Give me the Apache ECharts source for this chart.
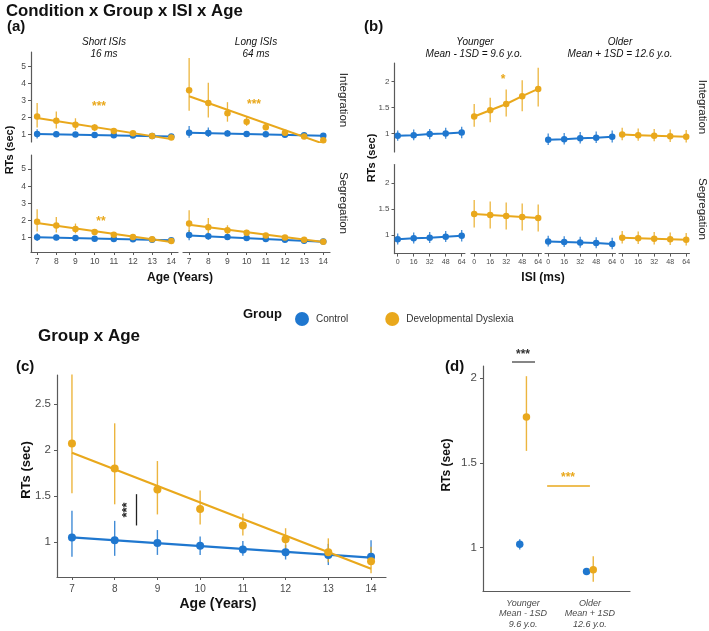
<!DOCTYPE html>
<html>
<head>
<meta charset="utf-8">
<script src="https://cdn.jsdelivr.net/npm/echarts@6/dist/echarts.min.js"></script>
<style>
html, body { margin: 0; padding: 0; background: #fff; }
#chart { width: 709px; height: 631px; }
</style>
</head>
<body>
<div id="chart"></div>
<script>
// ---- data ----
var ages = [7, 8, 9, 10, 11, 12, 13, 14];
var isi = [0, 16, 32, 48, 64];

// (a) Short ISI / Integration
var aDysShortInt = [2.05, 1.80, 1.57, 1.40, 1.20, 1.06, 0.90, 0.81];
var aDysShortIntLo = [1.40, 1.35, 1.25, 1.20, 1.05, 0.95, 0.80, 0.72];
var aDysShortIntHi = [2.85, 2.35, 1.95, 1.60, 1.35, 1.15, 1.00, 0.90];
var aCtrlShortInt = [1.02, 1.01, 0.99, 0.97, 0.95, 0.93, 0.91, 0.88];
var aCtrlShortIntLo = [0.75, 0.85, 0.88, 0.88, 0.87, 0.86, 0.84, 0.80];
var aCtrlShortIntHi = [1.30, 1.20, 1.12, 1.07, 1.04, 1.01, 0.98, 0.96];
var aFitShortInt = { dys: [1.97, 0.72], ctrl: [1.02, 0.87] };

// (a) Long ISI / Integration
var aDysLongInt = [3.60, 2.85, 2.25, 1.75, 1.42, 1.10, 0.87, 0.65];
var aDysLongIntLo = [2.40, 2.00, 1.75, 1.50, 1.25, 1.00, 0.78, 0.55];
var aDysLongIntHi = [5.50, 4.05, 2.90, 2.05, 1.62, 1.20, 0.97, 0.78];
var aCtrlLongInt = [1.10, 1.08, 1.05, 1.02, 1.00, 0.98, 0.95, 0.92];
var aCtrlLongIntLo = [0.80, 0.85, 0.90, 0.92, 0.92, 0.90, 0.88, 0.84];
var aCtrlLongIntHi = [1.50, 1.40, 1.25, 1.13, 1.08, 1.06, 1.03, 1.00];
var aFitLongInt = { dys: [3.25, 0.45], ctrl: [1.10, 0.92] };

// (a) Short ISI / Segregation
var aDysShortSeg = [1.92, 1.70, 1.50, 1.33, 1.17, 1.04, 0.90, 0.80];
var aDysShortSegLo = [1.35, 1.30, 1.25, 1.18, 1.07, 0.96, 0.82, 0.72];
var aDysShortSegHi = [2.65, 2.20, 1.82, 1.50, 1.28, 1.12, 0.98, 0.88];
var aCtrlShortSeg = [1.02, 1.00, 0.97, 0.94, 0.92, 0.90, 0.87, 0.85];
var aCtrlShortSegLo = [0.80, 0.85, 0.87, 0.87, 0.86, 0.84, 0.80, 0.77];
var aCtrlShortSegHi = [1.25, 1.17, 1.08, 1.02, 0.98, 0.96, 0.94, 0.93];
var aFitShortSeg = { dys: [1.85, 0.75], ctrl: [1.02, 0.84] };

// (a) Long ISI / Segregation
var aDysLongSeg = [1.82, 1.60, 1.43, 1.28, 1.12, 1.00, 0.88, 0.76];
var aDysLongSegLo = [1.20, 1.15, 1.18, 1.12, 1.02, 0.92, 0.80, 0.68];
var aDysLongSegHi = [2.60, 2.15, 1.72, 1.45, 1.22, 1.08, 0.96, 0.85];
var aCtrlLongSeg = [1.15, 1.08, 1.03, 0.97, 0.92, 0.87, 0.82, 0.77];
var aCtrlLongSegLo = [0.85, 0.88, 0.90, 0.90, 0.86, 0.80, 0.74, 0.68];
var aCtrlLongSegHi = [1.45, 1.30, 1.16, 1.05, 0.98, 0.94, 0.90, 0.86];
var aFitLongSeg = { dys: [1.75, 0.75], ctrl: [1.13, 0.76] };

// (b) Integration
var bYoungCtrlInt = [0.96, 0.97, 0.99, 1.00, 1.02];
var bYoungCtrlIntLo = [0.86, 0.87, 0.89, 0.90, 0.91];
var bYoungCtrlIntHi = [1.06, 1.08, 1.09, 1.11, 1.13];
var bYoungDysInt = [1.33, 1.45, 1.57, 1.72, 1.86];
var bYoungDysIntLo = [1.13, 1.22, 1.33, 1.43, 1.52];
var bYoungDysIntHi = [1.57, 1.69, 1.85, 2.03, 2.27];
var bOldCtrlInt = [0.88, 0.89, 0.91, 0.92, 0.94];
var bOldCtrlIntLo = [0.78, 0.79, 0.81, 0.82, 0.83];
var bOldCtrlIntHi = [1.00, 1.01, 1.03, 1.04, 1.06];
var bOldDysInt = [0.98, 0.97, 0.96, 0.95, 0.94];
var bOldDysIntLo = [0.87, 0.86, 0.85, 0.84, 0.83];
var bOldDysIntHi = [1.11, 1.10, 1.09, 1.08, 1.07];

// (b) Segregation
var bYoungCtrlSeg = [0.92, 0.94, 0.95, 0.97, 0.99];
var bYoungCtrlSegLo = [0.82, 0.84, 0.85, 0.87, 0.88];
var bYoungCtrlSegHi = [1.03, 1.05, 1.06, 1.08, 1.10];
var bYoungDysSeg = [1.41, 1.39, 1.37, 1.35, 1.33];
var bYoungDysSegLo = [1.15, 1.13, 1.11, 1.09, 1.07];
var bYoungDysSegHi = [1.68, 1.65, 1.63, 1.61, 1.59];
var bOldCtrlSeg = [0.88, 0.87, 0.86, 0.85, 0.83];
var bOldCtrlSegLo = [0.78, 0.77, 0.76, 0.75, 0.73];
var bOldCtrlSegHi = [0.99, 0.98, 0.97, 0.96, 0.95];
var bOldDysSeg = [0.95, 0.94, 0.93, 0.92, 0.91];
var bOldDysSegLo = [0.84, 0.83, 0.82, 0.81, 0.80];
var bOldDysSegHi = [1.08, 1.07, 1.06, 1.05, 1.04];

// (c) Group x Age
var cDys = [2.07, 1.80, 1.57, 1.36, 1.18, 1.03, 0.89, 0.79];
var cDysLo = [1.53, 1.41, 1.30, 1.19, 1.07, 0.93, 0.78, 0.66];
var cDysHi = [2.82, 2.29, 1.88, 1.56, 1.31, 1.15, 1.04, 0.95];
var cCtrl = [1.05, 1.02, 0.99, 0.96, 0.92, 0.89, 0.86, 0.84];
var cCtrlLo = [0.84, 0.85, 0.86, 0.86, 0.85, 0.81, 0.75, 0.77];
var cCtrlHi = [1.34, 1.23, 1.13, 1.06, 1.01, 0.97, 0.98, 1.02];
var cFit = { dys: [1.97, 0.71], ctrl: [1.05, 0.83] };

// (d) Younger / Older
var dGroups = ['Younger\nMean - 1SD\n9.6 y.o.', 'Older\nMean + 1SD\n12.6 y.o.'];
var dCtrl = [1.02, 0.86];
var dCtrlLo = [0.99, 0.85];
var dCtrlHi = [1.05, 0.87];
var dDys = [1.77, 0.87];
var dDysLo = [1.57, 0.80];
var dDysHi = [2.01, 0.95];

// ---- styling ----
var BLUE = '#1f77cf';
var GOLD = '#e9a81c';
var AX = '#5a5a5a';
var LAB = '#4a4a4a';
var FONT = '"Liberation Sans", Arial, sans-serif';

var grids = [], xAxes = [], yAxes = [], series = [];

function addGrid(g, x, y) {
  var i = grids.length;
  grids.push({ left: g[0], top: g[1], width: g[2], height: g[3], containLabel: false });
  x.gridIndex = i; y.gridIndex = i;
  xAxes.push(x); yAxes.push(y);
  return i;
}

function valAxis(min, max, ticks, showLine, fs, margin, extra) {
  var a = {
    type: 'value', min: min, max: max, splitLine: { show: false },
    axisLine: { show: showLine, onZero: false, lineStyle: { color: AX, width: 1.2 } },
    axisTick: { show: showLine, customValues: ticks, length: 3, lineStyle: { color: AX } },
    axisLabel: { show: showLine, customValues: ticks, fontSize: fs, color: LAB, margin: margin, fontFamily: FONT }
  };
  if (extra) { for (var k in extra) a.axisLabel[k] = extra[k]; }
  return a;
}

function pairs(xs, ys) { return xs.map(function (x, i) { return [x, ys[i]]; }); }
function triples(xs, lo, hi) { return xs.map(function (x, i) { return [x, lo[i], hi[i]]; }); }

function errSeries(gi, xs, lo, hi, color, w) {
  series.push({
    type: 'custom', xAxisIndex: gi, yAxisIndex: gi, silent: true, z: 3,
    encode: { x: 0, y: [1, 2] },
    data: triples(xs, lo, hi),
    renderItem: function (params, api) {
      var p1 = api.coord([api.value(0), api.value(1)]);
      var p2 = api.coord([api.value(0), api.value(2)]);
      return { type: 'line', shape: { x1: p1[0], y1: p1[1], x2: p2[0], y2: p2[1] },
        style: { stroke: color, lineWidth: w, opacity: 0.85 } };
    }
  });
}

function pointSeries(gi, xs, ys, color, size, name, lineW) {
  series.push({
    name: name, type: lineW ? 'line' : 'scatter', xAxisIndex: gi, yAxisIndex: gi, z: 4,
    symbol: 'circle', symbolSize: size, showSymbol: true,
    itemStyle: { color: color, opacity: 1 },
    lineStyle: { color: color, width: lineW || 0 },
    data: pairs(xs, ys)
  });
}

function fitSeries(gi, ends, color, w) {
  series.push({
    type: 'line', xAxisIndex: gi, yAxisIndex: gi, z: 2, symbol: 'none', silent: true,
    lineStyle: { color: color, width: w },
    data: [[7, ends[0]], [14, ends[1]]]
  });
}

// ---- (a) ----
var aY = [1, 2, 3, 4, 5];
var aPanels = [
  { g: [31, 52, 147, 90], ymin: 0.55, ymax: 5.86, left: true, bottom: false,
    d: [aDysShortInt, aDysShortIntLo, aDysShortIntHi], c: [aCtrlShortInt, aCtrlShortIntLo, aCtrlShortIntHi], f: aFitShortInt },
  { g: [183, 52, 147, 90], ymin: 0.55, ymax: 5.86, left: false, bottom: false,
    d: [aDysLongInt, aDysLongIntLo, aDysLongIntHi], c: [aCtrlLongInt, aCtrlLongIntLo, aCtrlLongIntHi], f: aFitLongInt },
  { g: [31, 155, 147, 97], ymin: 0.16, ymax: 5.82, left: true, bottom: true,
    d: [aDysShortSeg, aDysShortSegLo, aDysShortSegHi], c: [aCtrlShortSeg, aCtrlShortSegLo, aCtrlShortSegHi], f: aFitShortSeg },
  { g: [183, 155, 147, 97], ymin: 0.16, ymax: 5.82, left: false, bottom: true,
    d: [aDysLongSeg, aDysLongSegLo, aDysLongSegHi], c: [aCtrlLongSeg, aCtrlLongSegLo, aCtrlLongSegHi], f: aFitLongSeg }
];
aPanels.forEach(function (p) {
  var gi = addGrid(p.g, valAxis(6.68, 14.35, ages, p.bottom, 8.5, 5), valAxis(p.ymin, p.ymax, aY, p.left, 8.5, 5));
  fitSeries(gi, p.f.ctrl, BLUE, 2);
  fitSeries(gi, p.f.dys, GOLD, 2);
  errSeries(gi, ages, p.c[1], p.c[2], BLUE, 1.3);
  errSeries(gi, ages, p.d[1], p.d[2], GOLD, 1.3);
  pointSeries(gi, ages, p.c[0], BLUE, 6.5, 'Control');
  pointSeries(gi, ages, p.d[0], GOLD, 6.5, 'Developmental Dyslexia');
});

// ---- (b) ----
var bY = [1, 1.5, 2];
var bLefts = [394.5, 471, 545, 619];
var bRows = [
  { top: 63, bottom: false, sets: [
    [bYoungCtrlInt, bYoungCtrlIntLo, bYoungCtrlIntHi, BLUE, 'Control'],
    [bYoungDysInt, bYoungDysIntLo, bYoungDysIntHi, GOLD, 'Developmental Dyslexia'],
    [bOldCtrlInt, bOldCtrlIntLo, bOldCtrlIntHi, BLUE, 'Control'],
    [bOldDysInt, bOldDysIntLo, bOldDysIntHi, GOLD, 'Developmental Dyslexia']] },
  { top: 164.6, bottom: true, sets: [
    [bYoungCtrlSeg, bYoungCtrlSegLo, bYoungCtrlSegHi, BLUE, 'Control'],
    [bYoungDysSeg, bYoungDysSegLo, bYoungDysSegHi, GOLD, 'Developmental Dyslexia'],
    [bOldCtrlSeg, bOldCtrlSegLo, bOldCtrlSegHi, BLUE, 'Control'],
    [bOldDysSeg, bOldDysSegLo, bOldDysSegHi, GOLD, 'Developmental Dyslexia']] }
];
bRows.forEach(function (r) {
  r.sets.forEach(function (s, ci) {
    var gi = addGrid([bLefts[ci], r.top, 70.4, 89],
      valAxis(-3.2, 67.2, isi, r.bottom, 7, 5),
      valAxis(0.645, 2.36, bY, ci === 0, 8, 5));
    errSeries(gi, isi, s[1], s[2], s[3], 1.3);
    pointSeries(gi, isi, s[0], s[3], 6.5, s[4], 2);
  });
});

// ---- (c) ----
var cY = [1, 1.5, 2, 2.5];
var cGi = addGrid([57, 375, 329, 202],
  valAxis(6.65, 14.35, ages, true, 10, 7),
  valAxis(0.62, 2.815, cY, true, 11.5, 6));
fitSeries(cGi, cFit.ctrl, BLUE, 2.2);
fitSeries(cGi, cFit.dys, GOLD, 2.2);
errSeries(cGi, ages, cCtrlLo, cCtrlHi, BLUE, 1.4);
errSeries(cGi, ages, cDysLo, cDysHi, GOLD, 1.4);
pointSeries(cGi, ages, cCtrl, BLUE, 8, 'Control');
pointSeries(cGi, ages, cDys, GOLD, 8, 'Developmental Dyslexia');
// significance bracket at age 8.5
series.push({
  type: 'line', xAxisIndex: cGi, yAxisIndex: cGi, data: [], silent: true,
  markLine: { symbol: 'none', silent: true, label: { show: false },
    lineStyle: { color: '#222', width: 1.3, type: 'solid' },
    data: [[{ coord: [8.5, 1.52] }, { coord: [8.5, 1.18] }]] }
});

// ---- (d) ----
var dX = [1, 2];
var dGi = addGrid([483, 366, 147, 225],
  valAxis(0.4, 2.6, dX, true, 9, 7, {
    fontStyle: 'italic', lineHeight: 10.5,
    formatter: function (v) { return dGroups[Math.round(v) - 1] || ''; } }),
  valAxis(0.745, 2.07, [1, 1.5, 2], true, 11.5, 6));
xAxes[dGi].axisTick.show = false;
var dXc = dX.map(function (v) { return v - 0.05; });
var dXd = dX.map(function (v) { return v + 0.05; });
errSeries(dGi, dXc, dCtrlLo, dCtrlHi, BLUE, 1.4);
errSeries(dGi, dXd, dDysLo, dDysHi, GOLD, 1.4);
pointSeries(dGi, dXc, dCtrl, BLUE, 7.5, 'Control');
pointSeries(dGi, dXd, dDys, GOLD, 7.5, 'Developmental Dyslexia');
series.push({
  type: 'line', xAxisIndex: dGi, yAxisIndex: dGi, data: [], silent: true,
  markLine: { symbol: 'none', silent: true, label: { show: false },
    lineStyle: { color: GOLD, width: 1.5, type: 'solid' },
    data: [[{ coord: [1.36, 1.364] }, { coord: [2.0, 1.364] }]] }
});

// ---- texts ----
function txt(x, y, s, font, opt) {
  opt = opt || {};
  return {
    type: 'text', x: x, y: y, rotation: opt.rot || 0, silent: true,
    style: { text: s, font: font, fill: opt.color || '#111',
      align: opt.align || 'center', verticalAlign: 'middle' }
  };
}
var B = function (px) { return 'bold ' + px + 'px ' + FONT; };
var I = function (px) { return 'italic ' + px + 'px ' + FONT; };
var N = function (px) { return px + 'px ' + FONT; };
var R90 = Math.PI / 2;

var texts = [
  txt(6, 11, 'Condition x Group x ISI x Age', B(16.8), { align: 'left' }),
  txt(7, 27, '(a)', B(15), { align: 'left' }),
  txt(104, 42, 'Short ISIs', I(10)), txt(104, 54, '16 ms', I(10)),
  txt(256, 42, 'Long ISIs', I(10)), txt(256, 54, '64 ms', I(10)),
  txt(343, 100, 'Integration', N(11.5), { rot: -R90, color: '#222' }),
  txt(343, 203, 'Segregation', N(11.5), { rot: -R90, color: '#222' }),
  txt(10, 150, 'RTs (sec)', B(11), { rot: R90 }),
  txt(180, 278, 'Age (Years)', B(12)),
  txt(99, 107, '***', B(12), { color: GOLD }),
  txt(254, 105, '***', B(12), { color: GOLD }),
  txt(101, 222, '**', B(12), { color: GOLD }),

  txt(364, 27, '(b)', B(15), { align: 'left' }),
  txt(475, 42, 'Younger', I(10)), txt(474, 54, 'Mean - 1SD = 9.6 y.o.', I(10)),
  txt(620, 42, 'Older', I(10)), txt(620, 54, 'Mean + 1SD = 12.6 y.o.', I(10)),
  txt(702, 107, 'Integration', N(11.5), { rot: -R90, color: '#222' }),
  txt(702, 209, 'Segregation', N(11.5), { rot: -R90, color: '#222' }),
  txt(372, 158, 'RTs (sec)', B(11), { rot: R90 }),
  txt(543, 278, 'ISI (ms)', B(12)),
  txt(503, 80, '*', B(12), { color: GOLD }),

  txt(243, 314, 'Group', B(13), { align: 'left' }),

  txt(38, 336, 'Group x Age', B(17), { align: 'left' }),
  txt(16, 367, '(c)', B(15), { align: 'left' }),
  txt(26, 470, 'RTs (sec)', B(13), { rot: R90 }),
  txt(218, 604, 'Age (Years)', B(14)),
  txt(127, 510, '***', B(13), { rot: R90, color: '#222' }),

  txt(445, 367, '(d)', B(15), { align: 'left' }),
  txt(447, 465, 'RTs (sec)', B(12), { rot: R90 }),
  txt(523, 355, '***', B(12), { color: '#333' }),
  txt(568, 478, '***', B(12), { color: GOLD }),
  { type: 'line', silent: true, shape: { x1: 512, y1: 362, x2: 535, y2: 362 },
    style: { stroke: '#444', lineWidth: 1.3 } }
];

var chart = echarts.init(document.getElementById('chart'), null, { renderer: 'canvas' });
chart.setOption({
  animation: false,
  backgroundColor: '#fff',
  textStyle: { fontFamily: FONT },
  legend: {
    left: 290, top: 307, icon: 'circle', itemWidth: 14, itemHeight: 14, itemGap: 37,
    selectedMode: false,
    data: ['Control', 'Developmental Dyslexia'],
    textStyle: { fontSize: 10, color: '#333', fontFamily: FONT, padding: [0, 0, 0, 2] }
  },
  grid: grids,
  xAxis: xAxes,
  yAxis: yAxes,
  series: series,
  graphic: texts
});
</script>
</body>
</html>
